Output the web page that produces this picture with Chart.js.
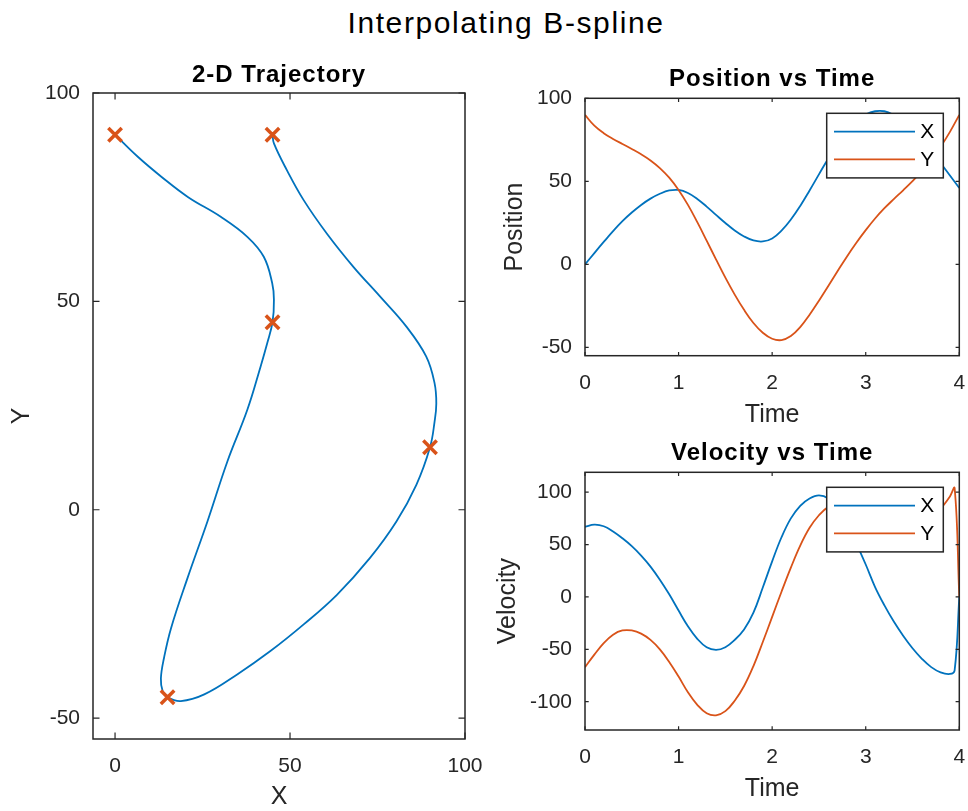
<!DOCTYPE html>
<html>
<head>
<meta charset="utf-8">
<script src="https://cdn.jsdelivr.net/npm/chart.js@4.4.0/dist/chart.umd.min.js"></script>
<style>
  body { margin: 0; background: #fff; width: 968px; height: 811px; position: relative; overflow: hidden; }
  #suptitle { position: absolute; left: 0; top: 8px; width: 1012px; text-align: center;
              font-family: "Liberation Sans", Arial, Helvetica, sans-serif; font-size: 30px;
              line-height: 30px; letter-spacing: 1.6px; color: #000; }
  canvas { position: absolute; }
</style>
</head>
<body>
<div id="suptitle">Interpolating B-spline</div>
<canvas id="traj" width="530" height="756" style="left:0px;top:55px"></canvas>
<canvas id="pos" width="520" height="380" style="left:490px;top:55px"></canvas>
<canvas id="vel" width="520" height="381" style="left:490px;top:430px"></canvas>
<script>
// waypoints of the path
const wayX = [0, 45, 15, 90, 45];
const wayY = [90, 45, -45, 15, 90];

// interpolated 2-D path
const trajX = [0, 6.5, 13.4, 20.9, 30.2, 37.8, 42.5, 44.9, 45.4, 45, 43.5, 41.6, 37.8, 32.1, 26.4, 20.7, 16.0,
  14.0, 13.1, 13.6, 15, 18.8, 25.5, 34.9, 44.4, 53.9, 63.4, 72.8, 80.4, 86.1, 90, 91.3, 91.8, 91.3, 88.9,
  83.2, 75.7, 68.1, 60.5, 53.9, 49.1, 45.4, 45];
const trajY = [90, 84.7, 79.8, 75.0, 70.3, 65.5, 60.7, 54.4, 50.4, 45, 40, 34.4, 24.0, 11.6, -2.8, -16.4, -28.4,
  -35.5, -40.5, -43.5, -45, -45.9, -44.3, -39.5, -33.9, -27.5, -20.4, -11.6, -2.8, 6.0, 15, 21.1, 25.5, 30.4, 36.8,
  44.0, 51.2, 58.3, 66.3, 74.3, 81.5, 87.9, 90];

// position vs time
const posTime = [0, 0.1, 0.2, 0.3, 0.4, 0.5, 0.6, 0.7, 0.8, 0.9, 1.0, 1.1, 1.2, 1.3, 1.4, 1.5, 1.6, 1.7, 1.8, 1.9,
  2.0, 2.1, 2.2, 2.3, 2.4, 2.5, 2.6, 2.7, 2.8, 2.9, 3.0, 3.1, 3.2, 3.3, 3.4, 3.5, 3.6, 3.7, 3.8, 3.9, 4.0];
const posX = [0, 6.8, 13.5, 20, 26, 31.2, 35.8, 39.6, 42.5, 44.5, 44.8, 43, 39.4, 34.8, 29.8, 24.9, 20.4, 16.8,
  14.4, 13.8, 15.6, 20.3, 27, 35.2, 44.5, 54.2, 63.8, 72.6, 80.2, 86.2, 90.2, 92.2, 92.2, 90, 86.5, 81.5, 75.5,
  68.5, 61, 53.5, 46];
const posY = [90, 83.5, 79, 75.5, 72.5, 69.5, 66.3, 62.6, 58, 52.2, 44.8, 35.8, 25.4, 14.3, 3, -8, -18.2, -27.4,
  -35.3, -41.2, -44.8, -45.6, -43.2, -37.8, -30.3, -21.9, -13, -4, 4.8, 13, 20.6, 27.6, 33.8, 39.3, 44.6, 50.1,
  56.1, 62.9, 70.8, 79.8, 90];

// velocity vs time
const velTime = [0, 0.1, 0.2, 0.3, 0.4, 0.5, 0.6, 0.7, 0.8, 0.9, 1.0, 1.1, 1.2, 1.3, 1.4, 1.5, 1.6, 1.7, 1.8, 1.9,
  2.0, 2.1, 2.2, 2.3, 2.4, 2.5, 2.6, 2.7, 2.8, 2.9, 3.0, 3.1, 3.2, 3.3, 3.4, 3.5, 3.6, 3.7, 3.8, 3.9, 3.95, 4.0];
const velX = [67, 69, 67.5, 62.5, 56, 48.5, 39.5, 29, 16.5, 2.5, -13, -28, -40, -48, -50.5, -48, -41, -31, -15, 9,
  34, 57, 75, 87, 94, 97, 94, 84, 69, 51, 31, 9.5, -8, -23.5, -37, -49, -59, -67, -72, -73.5, -70, 0];
const velY = [-67, -55, -44, -36, -32, -32, -35, -41, -50, -62, -76, -91, -103, -111, -113, -109, -99, -85, -66, -43,
  -19, 5, 28, 49, 66, 78, 86, 89, 87, 81, 73, 64, 57, 53, 53, 57, 64, 73, 84, 96, 104, 0];

// tick values
const trajXTicks = [0, 50, 100];
const trajYTicks = [-50, 0, 50, 100];
const timeTicks = [0, 1, 2, 3, 4];
const posTicks = [-50, 0, 50, 100];
const velTicks = [-100, -50, 0, 50, 100];

const FONT = '"Liberation Sans", Arial, Helvetica, sans-serif';
const AXIS_COLOR = '#262626';
const BLUE = '#0072BD';
const ORANGE = '#D95319';

function pairs(xs, ys) {
  return xs.map((x, i) => ({ x: x, y: ys[i] }));
}

// title above each panel, centred on the plot area
const panelTitle = {
  id: 'panelTitle',
  afterDraw(chart, args, opts) {
    const { ctx, chartArea } = chart;
    ctx.save();
    ctx.font = 'bold 24px ' + FONT;
    ctx.letterSpacing = '1px';
    ctx.fillStyle = '#000';
    ctx.textAlign = 'center';
    ctx.textBaseline = 'middle';
    ctx.fillText(opts.text, (chartArea.left + chartArea.right) / 2, opts.y);
    ctx.restore();
  }
};

// matlab style box with inward tick marks on all four sides
const boxAxes = {
  id: 'boxAxes',
  afterDatasetsDraw(chart, args, opts) {
    const { ctx, chartArea: a, scales } = chart;
    const len = opts.tickLength;
    ctx.save();
    ctx.strokeStyle = AXIS_COLOR;
    ctx.lineWidth = 1.2;
    ctx.beginPath();
    scales.x.ticks.forEach(t => {
      const px = scales.x.getPixelForValue(t.value);
      ctx.moveTo(px, a.bottom); ctx.lineTo(px, a.bottom - len);
      ctx.moveTo(px, a.top); ctx.lineTo(px, a.top + len);
    });
    scales.y.ticks.forEach(t => {
      const py = scales.y.getPixelForValue(t.value);
      ctx.moveTo(a.left, py); ctx.lineTo(a.left + len, py);
      ctx.moveTo(a.right, py); ctx.lineTo(a.right - len, py);
    });
    ctx.stroke();
    ctx.lineWidth = 1.5;
    ctx.strokeRect(a.left, a.top, a.right - a.left, a.bottom - a.top);
    ctx.restore();
  }
};

// legend box drawn inside the plot, top right (like matlab's default)
const insideLegend = {
  id: 'insideLegend',
  afterDraw(chart, args, opts) {
    if (!opts.show) return;
    const { ctx, chartArea: a } = chart;
    const w = 116.6, h = 64.6;
    const left = a.right - 16 - w;
    const top = a.top + 15;
    ctx.save();
    ctx.fillStyle = '#fff';
    ctx.fillRect(left, top, w, h);
    ctx.strokeStyle = AXIS_COLOR;
    ctx.lineWidth = 1.5;
    ctx.strokeRect(left, top, w, h);
    ctx.font = '21px ' + FONT;
    ctx.textBaseline = 'middle';
    ctx.textAlign = 'left';
    chart.data.datasets.forEach((ds, i) => {
      const y = top + 18.4 + i * 27.6;
      ctx.strokeStyle = ds.borderColor;
      ctx.lineWidth = ds.borderWidth;
      ctx.beginPath();
      ctx.moveTo(left + 7.3, y);
      ctx.lineTo(left + 88.3, y);
      ctx.stroke();
      ctx.fillStyle = '#000';
      ctx.fillText(ds.label, left + 93.5, y + 1);
    });
    ctx.restore();
  }
};

function makeOptions(cfg) {
  return {
    responsive: false,
    animation: false,
    events: [],
    layout: { padding: { left: 0, right: cfg.padRight, top: cfg.padTop, bottom: 0 } },
    plugins: {
      legend: { display: false },
      title: { display: false },
      tooltip: { enabled: false },
      panelTitle: { text: cfg.title, y: cfg.titleY },
      boxAxes: { tickLength: cfg.tickLength },
      insideLegend: { show: cfg.legend }
    },
    scales: {
      x: {
        type: 'linear',
        min: cfg.xMin,
        max: cfg.xMax,
        afterBuildTicks: s => { s.ticks = cfg.xTicks.map(v => ({ value: v })); },
        afterFit: s => { s.height = cfg.xHeight; },
        grid: { display: false, drawTicks: false },
        border: { display: false },
        ticks: { color: AXIS_COLOR, padding: 15, font: { family: FONT, size: 21 } },
        title: {
          display: true, text: cfg.xTitle, color: AXIS_COLOR,
          font: { family: FONT, size: 25, lineHeight: 1 },
          padding: { top: 0, bottom: cfg.xTitlePad }
        }
      },
      y: {
        type: 'linear',
        min: cfg.yMin,
        max: cfg.yMax,
        afterBuildTicks: s => { s.ticks = cfg.yTicks.map(v => ({ value: v })); },
        afterFit: s => { s.width = cfg.yWidth; },
        grid: { display: false, drawTicks: false },
        border: { display: false },
        ticks: { color: AXIS_COLOR, padding: 13, font: { family: FONT, size: 21 } },
        title: {
          display: true, text: cfg.yTitle, color: AXIS_COLOR,
          font: { family: FONT, size: 25, lineHeight: 1 },
          padding: { top: cfg.yTitlePad, bottom: 0 }
        }
      }
    }
  };
}

function lineSet(label, xs, ys, color, order) {
  return {
    label: label,
    data: pairs(xs, ys),
    borderColor: color,
    backgroundColor: color,
    borderWidth: 1.8,
    pointRadius: 0,
    tension: 0.4,
    fill: false,
    order: order
  };
}

// 2-D trajectory
new Chart(document.getElementById('traj').getContext('2d'), {
  type: 'line',
  data: {
    datasets: [{
      label: 'Waypoints',
      data: pairs(wayX, wayY),
      showLine: false,
      pointStyle: 'crossRot',
      pointRadius: 9.5,
      pointBorderWidth: 3.5,
      borderColor: ORANGE,
      backgroundColor: ORANGE,
      clip: false,
      order: 0
    }, {
      label: 'Trajectory',
      data: pairs(trajX, trajY),
      borderColor: BLUE,
      borderWidth: 1.8,
      pointRadius: 0,
      tension: 0.4,
      fill: false,
      order: 1
    }]
  },
  options: makeOptions({
    title: '2-D Trajectory', titleY: 20, padTop: 38, padRight: 65,
    xMin: -6.3, xMax: 100, xTicks: trajXTicks, xHeight: 72, xTitle: 'X', xTitlePad: 1,
    yMin: -55, yMax: 100, yTicks: trajYTicks, yWidth: 93, yTitle: 'Y', yTitlePad: 10,
    tickLength: 6.5, legend: false
  }),
  plugins: [boxAxes, insideLegend, panelTitle]
});

// position vs time
new Chart(document.getElementById('pos').getContext('2d'), {
  type: 'line',
  data: {
    datasets: [
      lineSet('X', posTime, posX, BLUE, 1),
      lineSet('Y', posTime, posY, ORANGE, 0)
    ]
  },
  options: makeOptions({
    title: 'Position vs Time', titleY: 24, padTop: 43.3, padRight: 50.7,
    xMin: 0, xMax: 4, xTicks: timeTicks, xHeight: 79.3, xTitle: 'Time', xTitlePad: 7,
    yMin: -55, yMax: 100, yTicks: posTicks, yWidth: 95, yTitle: 'Position', yTitlePad: 13,
    tickLength: 3.7, legend: true
  }),
  plugins: [boxAxes, insideLegend, panelTitle]
});

// velocity vs time
new Chart(document.getElementById('vel').getContext('2d'), {
  type: 'line',
  data: {
    datasets: [
      lineSet('X', velTime, velX, BLUE, 1),
      lineSet('Y', velTime, velY, ORANGE, 0)
    ]
  },
  options: makeOptions({
    title: 'Velocity vs Time', titleY: 23.3, padTop: 42.3, padRight: 50.7,
    xMin: 0, xMax: 4, xTicks: timeTicks, xHeight: 81, xTitle: 'Time', xTitlePad: 9,
    yMin: -127, yMax: 119, yTicks: velTicks, yWidth: 95, yTitle: 'Velocity', yTitlePad: 6,
    tickLength: 3.7, legend: true
  }),
  plugins: [boxAxes, insideLegend, panelTitle]
});
</script>
</body>
</html>
